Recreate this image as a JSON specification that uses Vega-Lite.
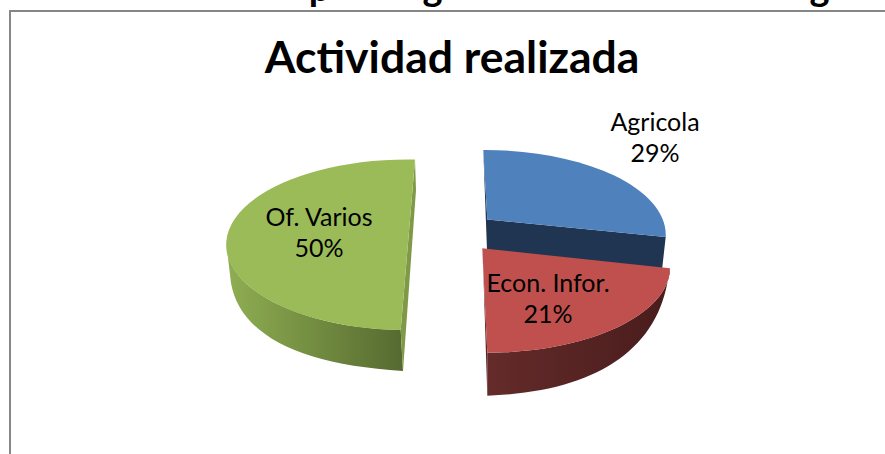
{"$schema":"https://vega.github.io/schema/vega-lite/v6.json","width":885,"height":454,"padding":0,"autosize":{"type":"none"},"background":"white","view":{"stroke":null},
"data":{"values":[{"actividad":"Agricola","pct":29},{"actividad":"Econ. Infor.","pct":21},{"actividad":"Of. Varios","pct":50}]},
"transform":[{"calculate":"datum.actividad + '\\n' + datum.pct + '%'","as":"etiqueta"}],
"layer":[
{"data":{"values":[{"t":"marco"}]},"mark":{"type":"point","shape":"M-432.5,227 L-432.5,-216 L443,-216","filled":false,"size":4,"stroke":"#868686","strokeWidth":2,"opacity":1}},
{"data":{"values":[{"t":"p"}]},"mark":{"type":"text","font":"Lato","fontWeight":"bold","fontSize":38,"dx":-123,"dy":-237,"color":"black"},"encoding":{"text":{"field":"t"}}},
{"data":{"values":[{"t":"g"}]},"mark":{"type":"text","font":"Lato","fontWeight":"bold","fontSize":38,"dx":-10,"dy":-237,"color":"black"},"encoding":{"text":{"field":"t"}}},
{"data":{"values":[{"t":"g"}]},"mark":{"type":"text","font":"Lato","fontWeight":"bold","fontSize":38,"dx":377,"dy":-237,"color":"black"},"encoding":{"text":{"field":"t"}}},
{"data":{"values":[{"t":"Actividad realizada"}]},"mark":{"type":"text","font":"Lato","fontWeight":"bold","fontSize":44.5,"dx":9.5,"dy":-167,"color":"black"},"encoding":{"text":{"field":"t"}}},
{"transform":[{"filter":"datum.actividad==='Agricola'"}],"mark":{"type":"point","shape":"M40.8,-77 L44.5,23 L219.5,43 L223.2,10 L44.8,-7.5 Z","filled":true,"size":4,"fill":"#1F3552","opacity":1}},
{"transform":[{"filter":"datum.actividad==='Agricola'"}],"mark":{"type":"point","shape":"M40.8,-77 A181 85 0 0 1 223.2,10 L44.8,-7.5 Z","filled":true,"size":4,"fill":"#4F81BD","opacity":1}},
{"transform":[{"filter":"datum.actividad==='Of. Varios'"}],"mark":{"type":"point","shape":"M-215.8,20 L-211.5,56 C-202.5,108 -142.5,138 -39.5,144 L-41.8,103 A181 85 0 0 1 -215.8,20 Z","filled":true,"size":4,"opacity":1,"fill":{"x1":0,"y1":0,"x2":1,"y2":0,"gradient":"linear","stops":[{"offset":0,"color":"#8FAE52"},{"offset":1,"color":"#566A30"}]}}},
{"transform":[{"filter":"datum.actividad==='Of. Varios'"}],"mark":{"type":"point","shape":"M-27.5,-67 L-26.5,-37 L-39.5,144 L-41.8,103 Z","filled":true,"size":4,"fill":"#7F9A47","opacity":1}},
{"transform":[{"filter":"datum.actividad==='Of. Varios'"}],"mark":{"type":"point","shape":"M-27.5,-67.5 A181 85 0 0 0 -41.8,103 Z","filled":true,"size":4,"fill":"#9BBB59","opacity":1}},
{"transform":[{"filter":"datum.actividad==='Econ. Infor.'"}],"mark":{"type":"point","shape":"M227.5,41.3 L225.8,50 C215,125 150,165 44.8,168.7 L44.8,125.7 A183 85 0 0 0 227.5,41.3 Z","filled":true,"size":4,"opacity":1,"fill":{"x1":0,"y1":0,"x2":1,"y2":0,"gradient":"linear","stops":[{"offset":0,"color":"#642B2A"},{"offset":1,"color":"#491C1C"}]}}},
{"transform":[{"filter":"datum.actividad==='Econ. Infor.'"}],"mark":{"type":"point","shape":"M39.8,21.3 L41,50 L44.8,168.7 L44.8,125.7 Z","filled":true,"size":4,"fill":"#5A2423","opacity":1}},
{"transform":[{"filter":"datum.actividad==='Econ. Infor.'"}],"mark":{"type":"point","shape":"M39.8,21.3 L227.5,41.3 A183 85 0 0 1 44.8,125.7 Z","filled":true,"size":4,"fill":"#C0504D","opacity":1}},
{"transform":[{"filter":"datum.actividad==='Agricola'"}],"mark":{"type":"text","font":"Lato","fontSize":25,"lineBreak":"\n","lineHeight":31,"dx":212.5,"dy":-104.5,"color":"black"},"encoding":{"text":{"field":"etiqueta"}}},
{"transform":[{"filter":"datum.actividad==='Of. Varios'"}],"mark":{"type":"text","font":"Lato","fontSize":25,"lineBreak":"\n","lineHeight":31,"dx":-123.5,"dy":-9.5,"color":"black"},"encoding":{"text":{"field":"etiqueta"}}},
{"transform":[{"filter":"datum.actividad==='Econ. Infor.'"}],"mark":{"type":"text","font":"Lato","fontSize":25,"lineBreak":"\n","lineHeight":31,"dx":105.5,"dy":57,"color":"black"},"encoding":{"text":{"field":"etiqueta"}}}
]}
